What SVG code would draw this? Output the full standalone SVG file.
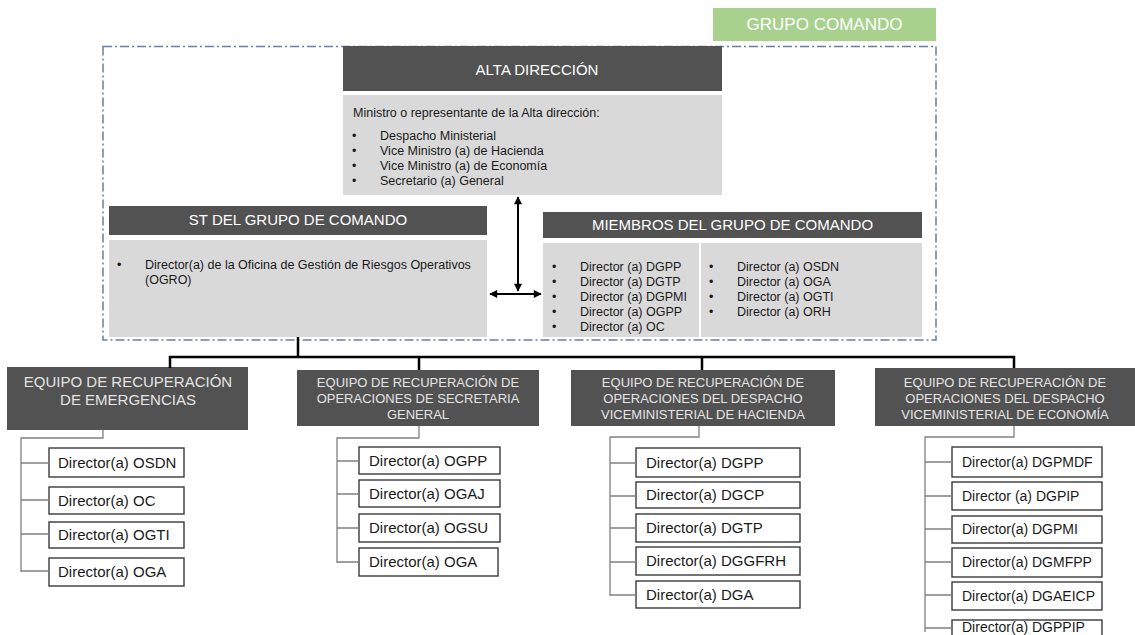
<svg xmlns="http://www.w3.org/2000/svg" width="1135" height="635" viewBox="0 0 1135 635">
<defs>
<style>
text{font-family:"Liberation Sans",Arial,sans-serif}
.hdr{fill:#525252}
.body{fill:#d9d9d9}
.ht{fill:#ffffff;font-size:15px;text-anchor:middle}
.tt{fill:#e4e4e4;font-size:13px;text-anchor:middle}
.tt1{fill:#e4e4e4;font-size:15px;text-anchor:middle}
.bt{fill:#1a1a1a;font-size:12.5px}
.box{fill:#ffffff;stroke:#3a3a3a;stroke-width:1.4}
.bx{fill:#1a1a1a;font-size:15px}
.bx4{fill:#1a1a1a;font-size:14px}
.main{fill:none;stroke:#000;stroke-width:2.5}
.tree{fill:none;stroke:#808080;stroke-width:1.3}
.arr{fill:none;stroke:#000;stroke-width:2;marker-start:url(#ah);marker-end:url(#ah)}
</style>
<marker id="ah" viewBox="0 0 10 10" refX="9" refY="5" markerWidth="4.5" markerHeight="4" orient="auto-start-reverse" markerUnits="strokeWidth">
<path d="M0,0 L10,5 L0,10 z" fill="#000"/>
</marker>
</defs>
<rect width="1135" height="635" fill="#ffffff"/>

<g id="grupo-comando">
<rect x="713" y="8" width="223" height="33" fill="#a9d18e"/>
<text x="824.5" y="30" fill="#ffffff" font-size="17" text-anchor="middle">GRUPO COMANDO</text>
</g>

<rect id="grupo-border" x="103" y="46.5" width="833" height="293.5" fill="none" stroke="#6b7da3" stroke-width="1.5" stroke-dasharray="9 3 2 3"/>

<g id="alta-direccion">
<rect class="hdr" x="343" y="46" width="379" height="45"/>
<text class="ht" x="537" y="75">ALTA DIRECCIÓN</text>
<rect class="body" x="343" y="95" width="379" height="100"/>
<text class="bt" x="353" y="117">Ministro o representante de la Alta dirección:</text>
<text class="bt" x="352" y="140">•</text><text class="bt" x="380" y="140">Despacho Ministerial</text>
<text class="bt" x="352" y="155">•</text><text class="bt" x="380" y="155">Vice Ministro (a) de Hacienda</text>
<text class="bt" x="352" y="170">•</text><text class="bt" x="380" y="170">Vice Ministro (a) de Economía</text>
<text class="bt" x="352" y="185">•</text><text class="bt" x="380" y="185">Secretario (a) General</text>
</g>

<g id="st-grupo">
<rect class="hdr" x="109" y="206" width="378" height="29"/>
<text class="ht" x="298" y="225">ST DEL GRUPO DE COMANDO</text>
<rect class="body" x="109" y="240" width="378" height="97"/>
<text class="bt" x="117" y="269">•</text>
<text class="bt" x="145" y="269">Director(a) de la Oficina de Gestión de Riesgos Operativos</text>
<text class="bt" x="145" y="284">(OGRO)</text>
</g>

<g id="miembros">
<rect class="hdr" x="543" y="212" width="379" height="26"/>
<text class="ht" x="732.5" y="230">MIEMBROS DEL GRUPO DE COMANDO</text>
<rect class="body" x="543" y="243" width="379" height="94"/>
<line x1="700" y1="243" x2="700" y2="337" stroke="#ffffff" stroke-width="2"/>
<text class="bt" x="552" y="271">•</text><text class="bt" x="580" y="271">Director (a) DGPP</text>
<text class="bt" x="552" y="286">•</text><text class="bt" x="580" y="286">Director (a) DGTP</text>
<text class="bt" x="552" y="301">•</text><text class="bt" x="580" y="301">Director (a) DGPMI</text>
<text class="bt" x="552" y="316">•</text><text class="bt" x="580" y="316">Director (a) OGPP</text>
<text class="bt" x="552" y="331">•</text><text class="bt" x="580" y="331">Director (a) OC</text>
<text class="bt" x="709" y="271">•</text><text class="bt" x="737" y="271">Director (a) OSDN</text>
<text class="bt" x="709" y="286">•</text><text class="bt" x="737" y="286">Director (a) OGA</text>
<text class="bt" x="709" y="301">•</text><text class="bt" x="737" y="301">Director (a) OGTI</text>
<text class="bt" x="709" y="316">•</text><text class="bt" x="737" y="316">Director (a) ORH</text>
</g>

<g id="equipo-emergencias">
<rect class="hdr" x="7" y="367" width="241" height="63"/>
<text class="tt1" x="128" y="387">EQUIPO DE RECUPERACIÓN</text>
<text class="tt1" x="128" y="405">DE EMERGENCIAS</text>
<rect class="box" x="49" y="448" width="135" height="29"/><text class="bx" x="58" y="468">Director(a) OSDN</text>
<rect class="box" x="49" y="487" width="135" height="27"/><text class="bx" x="58" y="506">Director(a) OC</text>
<rect class="box" x="49" y="522" width="135" height="26"/><text class="bx" x="58" y="540">Director(a) OGTI</text>
<rect class="box" x="49" y="558" width="135" height="28"/><text class="bx" x="58" y="577">Director(a) OGA</text>
</g>

<g id="equipo-secretaria">
<rect class="hdr" x="297" y="370" width="242" height="56"/>
<text class="tt" x="418" y="387">EQUIPO DE RECUPERACIÓN DE</text>
<text class="tt" x="418" y="403">OPERACIONES  DE SECRETARIA</text>
<text class="tt" x="418" y="419">GENERAL</text>
<rect class="box" x="359" y="447" width="141" height="27"/><text class="bx" x="369" y="466">Director(a) OGPP</text>
<rect class="box" x="359" y="480" width="141" height="27"/><text class="bx" x="369" y="499">Director(a) OGAJ</text>
<rect class="box" x="359" y="514" width="141" height="28"/><text class="bx" x="369" y="533">Director(a) OGSU</text>
<rect class="box" x="359" y="548" width="139" height="28"/><text class="bx" x="369" y="567">Director(a) OGA</text>
</g>

<g id="equipo-hacienda">
<rect class="hdr" x="571" y="370" width="264" height="56"/>
<text class="tt" x="703" y="387">EQUIPO DE RECUPERACIÓN DE</text>
<text class="tt" x="703" y="403">OPERACIONES DEL DESPACHO</text>
<text class="tt" x="703" y="419">VICEMINISTERIAL DE HACIENDA</text>
<rect class="box" x="636" y="448" width="164" height="29"/><text class="bx" x="646" y="468">Director(a) DGPP</text>
<rect class="box" x="636" y="482" width="164" height="26"/><text class="bx" x="646" y="500">Director(a) DGCP</text>
<rect class="box" x="636" y="514" width="164" height="28"/><text class="bx" x="646" y="533">Director(a) DGTP</text>
<rect class="box" x="636" y="547" width="164" height="28"/><text class="bx" x="646" y="566">Director(a) DGGFRH</text>
<rect class="box" x="636" y="581" width="164" height="27"/><text class="bx" x="646" y="600">Director(a) DGA</text>
</g>

<g id="equipo-economia">
<rect class="hdr" x="875" y="368" width="260" height="58"/>
<text class="tt" x="1005" y="387">EQUIPO DE RECUPERACIÓN DE</text>
<text class="tt" x="1005" y="403">OPERACIONES DEL DESPACHO</text>
<text class="tt" x="1005" y="419">VICEMINISTERIAL DE ECONOMÍA</text>
<rect class="box" x="952" y="447" width="150" height="30"/><text class="bx4" x="962" y="467">Director(a) DGPMDF</text>
<rect class="box" x="952" y="482" width="150" height="28"/><text class="bx4" x="962" y="501">Director (a) DGPIP</text>
<rect class="box" x="952" y="516" width="150" height="27"/><text class="bx4" x="962" y="534">Director(a) DGPMI</text>
<rect class="box" x="952" y="548" width="150" height="29"/><text class="bx4" x="962" y="567">Director(a) DGMFPP</text>
<rect class="box" x="952" y="582" width="150" height="28"/><text class="bx4" x="962" y="601">Director(a) DGAEICP</text>
<rect class="box" x="952" y="620" width="150" height="22"/><text class="bx4" x="962" y="632">Director(a) DGPPIP</text>
</g>

<g id="connectors">
<path class="arr" d="M518,197 V291"/>
<path class="arr" d="M490,294 H541"/>
<path class="main" d="M298,337 V357 M170,368 V357 H1014 V368 M419,357 V370 M702,357 V370"/>
<path class="tree" d="M103,430 V438 H21 V572 M21,463 H49 M21,500 H49 M21,534 H49 M21,571 H49"/>
<path class="tree" d="M419,426 V438 H337 V563 M337,461 H359 M337,494 H359 M337,528 H359 M337,562 H359"/>
<path class="tree" d="M699,426 V437 H610 V596 M610,463 H636 M610,496 H636 M610,528 H636 M610,562 H636 M610,595 H636"/>
<path class="tree" d="M1014,426 V437 H925 V632 M925,462 H952 M925,496 H952 M925,529 H952 M925,562 H952 M925,595 H952 M925,628 H952"/>
</g>
</svg>
